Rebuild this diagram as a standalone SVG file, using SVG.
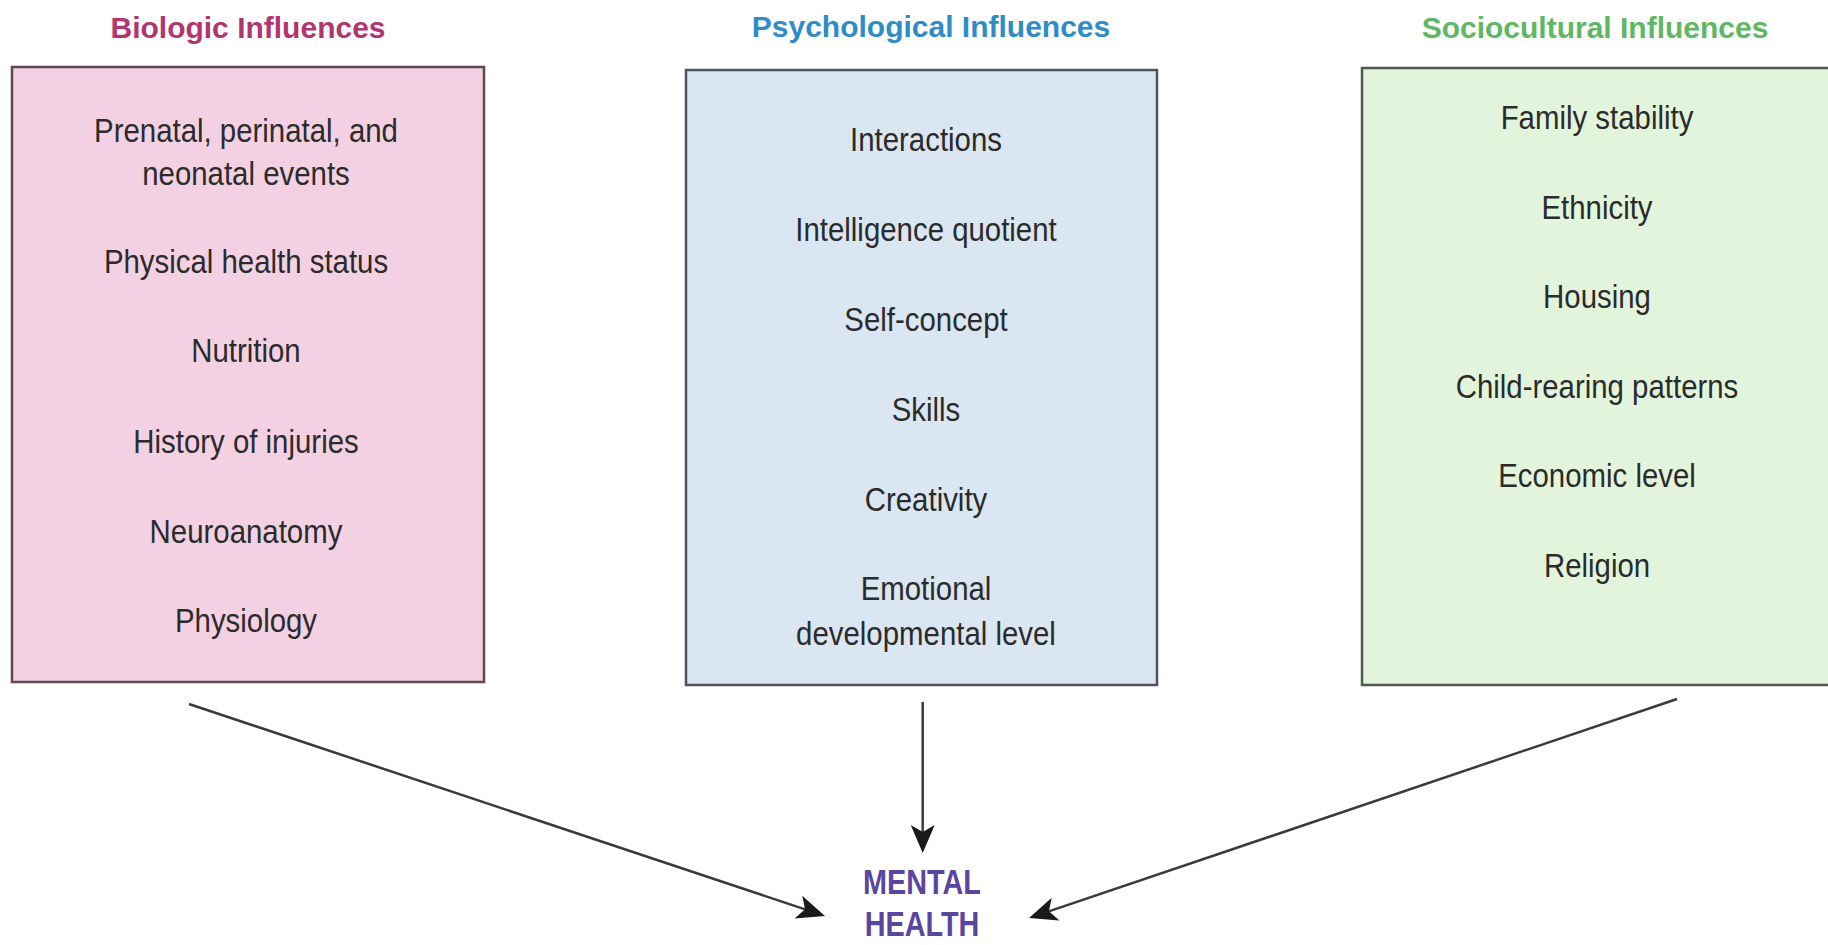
<svg xmlns="http://www.w3.org/2000/svg" width="1828" height="945" viewBox="0 0 1828 945">
  <style>
    .title { font-family: "Liberation Sans", Arial, sans-serif; font-weight: bold; font-size: 30px; text-anchor: middle; }
    .item { font-family: "Liberation Sans", Arial, sans-serif; font-size: 34px; text-anchor: middle; fill: #2b2b2b; }
    .box { stroke-width: 2.5; }
    .conn { stroke: #3a3a3a; stroke-width: 2.5; fill: none; marker-end: url(#arrow); }
    .mh { font-family: "Liberation Sans", Arial, sans-serif; font-weight: bold; font-size: 36px; text-anchor: middle; fill: #5a469e; }
  </style>
  <defs>
    <marker id="arrow" viewBox="-30 -15 32 30" refX="-6" refY="0" markerWidth="32" markerHeight="30" markerUnits="userSpaceOnUse" orient="auto">
      <path d="M0,0 L-28,-12 L-21,0 L-28,12 Z" fill="#1a1a1a"/>
    </marker>
  </defs>
  <rect width="1828" height="945" fill="#ffffff"/>

  <g id="biologic">
    <text class="title" x="248" y="38" fill="#b3356f">Biologic Influences</text>
    <rect class="box" x="12" y="67" width="472" height="615" fill="#f3d1e3" stroke="#5e4a55"/>
    <g transform="translate(246 0) scale(0.865 1)">
      <text class="item" x="0" y="142">Prenatal, perinatal, and</text>
      <text class="item" x="0" y="185">neonatal events</text>
      <text class="item" x="0" y="273">Physical health status</text>
      <text class="item" x="0" y="362">Nutrition</text>
      <text class="item" x="0" y="453">History of injuries</text>
      <text class="item" x="0" y="543">Neuroanatomy</text>
      <text class="item" x="0" y="632">Physiology</text>
    </g>
  </g>

  <g id="psychological">
    <text class="title" x="931" y="37" fill="#2f8cc6">Psychological Influences</text>
    <rect class="box" x="686" y="70" width="471" height="615" fill="#dae6f1" stroke="#4c5560"/>
    <g transform="translate(926 0) scale(0.865 1)">
      <text class="item" x="0" y="151">Interactions</text>
      <text class="item" x="0" y="241">Intelligence quotient</text>
      <text class="item" x="0" y="331">Self-concept</text>
      <text class="item" x="0" y="421">Skills</text>
      <text class="item" x="0" y="511">Creativity</text>
      <text class="item" x="0" y="600">Emotional</text>
      <text class="item" x="0" y="645">developmental level</text>
    </g>
  </g>

  <g id="sociocultural">
    <text class="title" x="1595" y="38" fill="#5fb763">Sociocultural Influences</text>
    <rect class="box" x="1362" y="68" width="480" height="617" fill="#e3f4dd" stroke="#4e5a4e"/>
    <g transform="translate(1597 0) scale(0.865 1)">
      <text class="item" x="0" y="129">Family stability</text>
      <text class="item" x="0" y="219">Ethnicity</text>
      <text class="item" x="0" y="308">Housing</text>
      <text class="item" x="0" y="398">Child-rearing patterns</text>
      <text class="item" x="0" y="487">Economic level</text>
      <text class="item" x="0" y="577">Religion</text>
    </g>
  </g>

  <g id="mental-health">
    <g transform="translate(922 0) scale(0.8 1)">
      <text class="mh" x="0" y="894">MENTAL</text>
      <text class="mh" x="0" y="936">HEALTH</text>
    </g>
  </g>

  <g id="connectors">
    <line class="conn" x1="189" y1="704" x2="819.3" y2="914.1"/>
    <line class="conn" x1="922.7" y1="702" x2="922.7" y2="847"/>
    <line class="conn" x1="1677" y1="699" x2="1034.7" y2="916.1"/>
  </g>
</svg>
